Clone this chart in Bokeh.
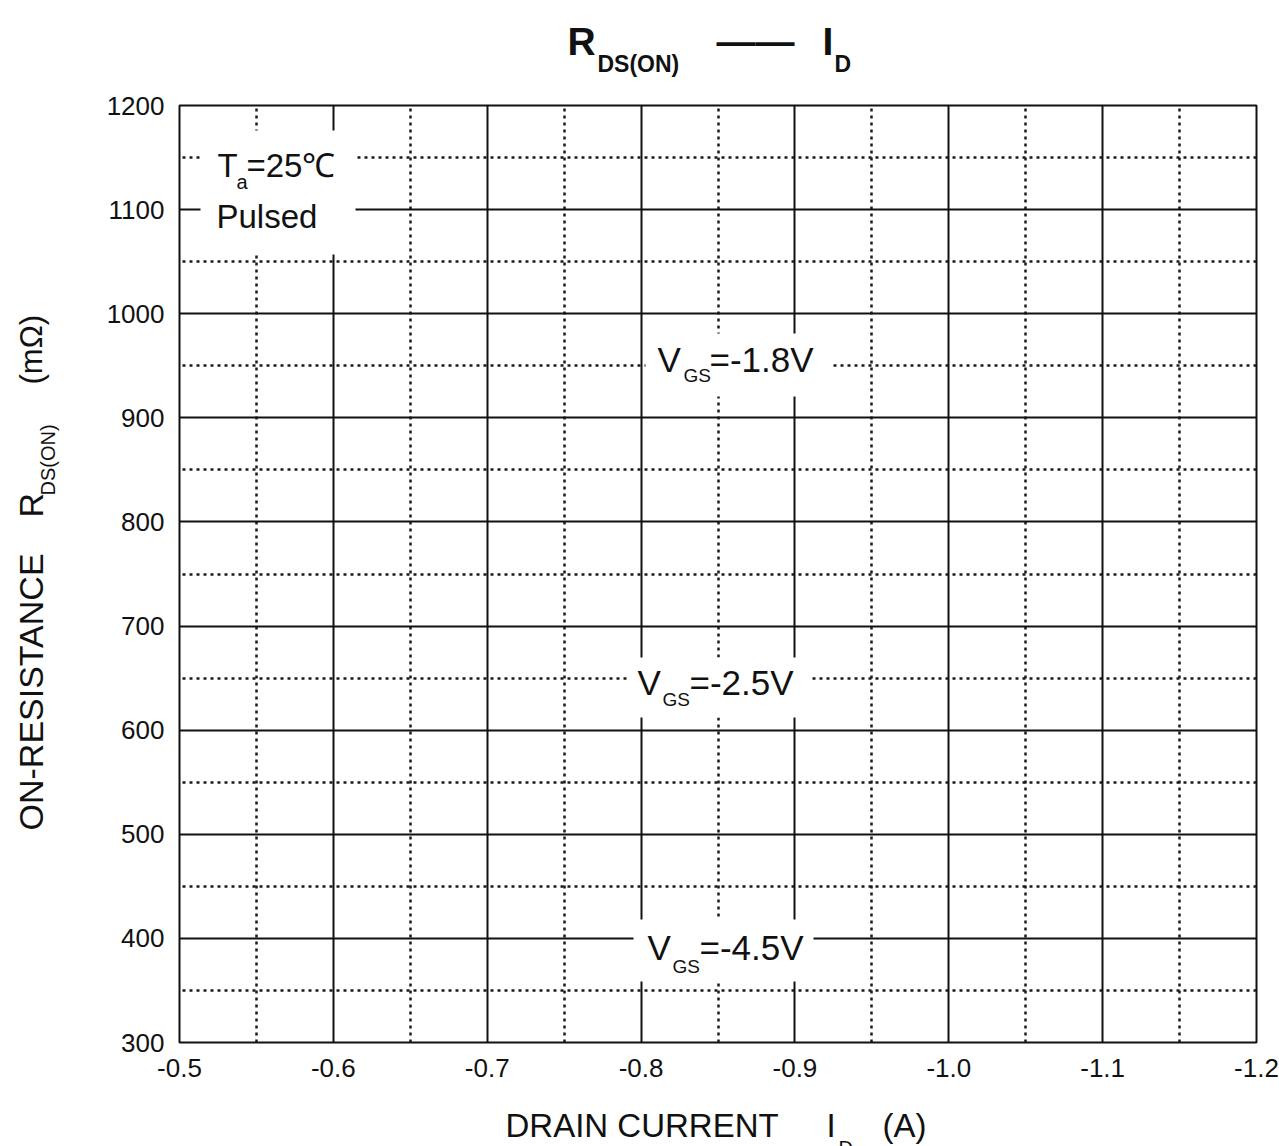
from math import pi
from bokeh.plotting import figure
from bokeh.layouts import column, row
from bokeh.models import Range1d, FixedTicker, ColumnDataSource
from bokeh.core.properties import value
from bokeh.embed import file_html
from bokeh.resources import INLINE

# ---- data ----
x_ticks = [-0.5, -0.6, -0.7, -0.8, -0.9, -1.0, -1.1, -1.2]
x_tick_labels = ["-0.5", "-0.6", "-0.7", "-0.8", "-0.9", "-1.0", "-1.1", "-1.2"]
x_minor = [-0.55, -0.65, -0.75, -0.85, -0.95, -1.05, -1.15]
y_ticks = [300, 400, 500, 600, 700, 800, 900, 1000, 1100, 1200]
y_tick_labels = ["300", "400", "500", "600", "700", "800", "900", "1000", "1100", "1200"]
y_minor = [350, 450, 550, 650, 750, 850, 950, 1050, 1150]
vgs_values = ["-1.8V", "-2.5V", "-4.5V"]
ta_text = "=25\u2103"
pulsed_text = "Pulsed"
title_main = ["R", "\u2014\u2014", "I"]
title_subs = ["DS(ON)", "D"]
xtitle_parts = ["DRAIN CURRENT", "I", "(A)"]
ytitle_parts = ["ON-RESISTANCE", "R"]
ytitle_unit = "(m\u03a9)"

FONT = "Liberation Sans"
INK = "#111111"

# ---- page geometry (pixels) ----
PW, PH = 1279, 1146
FX0, FX1, FY0, FY1 = 179, 1256, 105, 1042      # plot frame
TOP_H = 90                                       # title strip height
BOT_Y = 1095                                     # top of x-title strip
MID_H = BOT_Y - TOP_H
YL_W = 75                                        # y-title strip width
BOT_H = PH - BOT_Y


def xd(px):
    return -0.5 + (px - FX0) / (FX1 - FX0) * (-0.7)


def yd(py):
    return 1200 - (py - FY0) / (FY1 - FY0) * 900


def blank(w, h):
    f = figure(frame_width=w, frame_height=h, x_range=Range1d(0, w), y_range=Range1d(0, h),
               x_axis_location=None, y_axis_location=None, min_border=0, title=None,
               output_backend="svg", toolbar_location=None)
    f.outline_line_color = None
    f.grid.visible = False
    f.background_fill_color = "white"
    f.border_fill_color = "white"
    return f


def txt(f, ox, oy, h, texts, pxs, pys, size, bold=False, angle=0.0):
    f.text(x=[px - ox for px in pxs], y=[h - (py - oy) for py in pys], text=texts,
           text_font=value(FONT), text_font_size=value(f"{size}px"),
           text_font_style="bold" if bold else "normal", text_color=INK,
           text_align="left", text_baseline="middle", angle=angle)


# ---- main chart ----
MAIN_W = PW - YL_W
p = figure(width=MAIN_W, height=MID_H, output_backend="svg", toolbar_location=None,
           x_range=Range1d(-0.5, -1.2), y_range=Range1d(300, 1200),
           min_border_left=FX0 - YL_W, min_border_right=MAIN_W - (FX0 - YL_W) - (FX1 - FX0),
           min_border_top=FY0 - TOP_H, min_border_bottom=BOT_Y - FY1)
p.background_fill_color = "white"
p.border_fill_color = "white"
p.outline_line_color = INK
p.outline_line_width = 2

for ax, ticks, labels in ((p.xaxis[0], x_ticks, x_tick_labels), (p.yaxis[0], y_ticks, y_tick_labels)):
    ax.ticker = FixedTicker(ticks=ticks)
    ax.major_label_overrides = {t: l for t, l in zip(ticks, labels)}
    ax.axis_line_color = None
    ax.major_tick_line_color = None
    ax.minor_tick_line_color = None
    ax.major_tick_out = 0
    ax.major_tick_in = 0
    ax.major_label_text_font = FONT
    ax.major_label_text_font_size = "26px"
    ax.major_label_text_color = INK
p.xaxis[0].major_label_standoff = 16
p.yaxis[0].major_label_standoff = 15

p.xgrid.ticker = FixedTicker(ticks=x_ticks, minor_ticks=x_minor)
p.ygrid.ticker = FixedTicker(ticks=y_ticks, minor_ticks=y_minor)
for g in (p.xgrid[0], p.ygrid[0]):
    g.grid_line_color = INK
    g.grid_line_width = 2
    g.grid_line_alpha = 1
    g.minor_grid_line_color = "#1a1a1a"
    g.minor_grid_line_width = 2.5
    g.minor_grid_line_dash = "3 4"

# white boxes behind the in-plot labels (page-pixel extents)
boxes_px = [(200, 355, 130, 254), (645, 830, 333, 396), (627, 810, 657, 717), (633, 813, 919, 981)]
box_src = ColumnDataSource(dict(
    left=[xd(b[0]) for b in boxes_px], right=[xd(b[1]) for b in boxes_px],
    top=[yd(b[2]) for b in boxes_px], bottom=[yd(b[3]) for b in boxes_px]))
p.quad(left="left", right="right", top="top", bottom="bottom", source=box_src,
       fill_color="white", line_color=None)


def ptxt(texts, pxs, pys, size):
    p.text(x=[xd(v) for v in pxs], y=[yd(v) for v in pys], text=texts,
           text_font=value(FONT), text_font_size=value(f"{size}px"), text_color=INK,
           text_align="left", text_baseline="middle")


# T_a=25°C / Pulsed
ptxt(["T", ta_text, pulsed_text], [217, 246, 216], [164.5, 164.5, 215.5], 33)
ptxt(["a"], [236], [181], 20)

# V_GS labels (V left, GS left, rest left, cap-centre y, subscript centre y)
vgs_pos = [(657, 683, 709, 358.5, 374.5), (637, 662, 689, 681.5, 699), (647, 672, 699, 946.5, 966)]
ptxt(["V"] * 3, [v[0] for v in vgs_pos], [v[3] for v in vgs_pos], 35)
ptxt(["GS"] * 3, [v[1] for v in vgs_pos], [v[4] for v in vgs_pos], 19)
ptxt(["=" + v for v in vgs_values], [v[2] for v in vgs_pos], [v[3] for v in vgs_pos], 35)

# ---- title strip:  R_DS(ON) —— I_D ----
tf = blank(PW, TOP_H)
txt(tf, 0, 0, TOP_H, title_main, [567, 716, 822], [41, 41, 41], 39, bold=True)
txt(tf, 0, 0, TOP_H, title_subs, [597, 834], [63.5, 63.5], 23, bold=True)

# ---- y title strip (rotated) ----
yf = blank(YL_W, MID_H)
txt(yf, 0, TOP_H, MID_H, ytitle_parts, [30, 30], [815, 502], 34, angle=pi / 2)
txt(yf, 0, TOP_H, MID_H, [ytitle_unit], [31], [369], 31, angle=pi / 2)
txt(yf, 0, TOP_H, MID_H, ["DS(ON)"], [47], [480], 20, angle=pi / 2)

# ---- x title strip ----
xf = blank(PW, BOT_H)
txt(xf, 0, BOT_Y, BOT_H, xtitle_parts, [505, 826, 882], [1124.5, 1124.5, 1124.5], 33)
txt(xf, 0, BOT_Y, BOT_H, ["D"], [838], [1147], 20)

layout = column(tf, row(yf, p), xf)
open("out.html", "w").write(file_html(layout, INLINE))
